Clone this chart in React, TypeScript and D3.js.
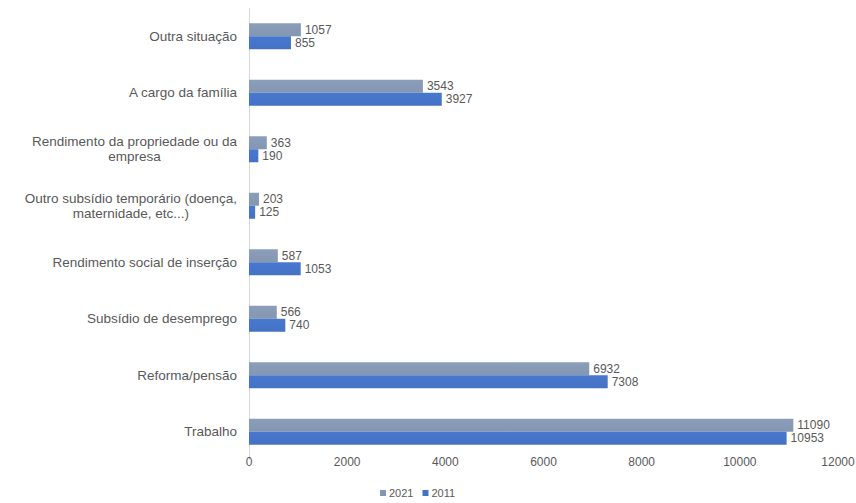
import React, { useEffect, useRef } from "react";
import * as d3 from "d3";

const categories = [
  "Outra situação",
  "A cargo da família",
  "Rendimento da propriedade ou da empresa",
  "Outro subsídio temporário (doença, maternidade, etc...)",
  "Rendimento social de inserção",
  "Subsídio de desemprego",
  "Reforma/pensão",
  "Trabalho",
];
const seriesNames = ["2021", "2011"];
const values2021 = [1057, 3543, 363, 203, 587, 566, 6932, 11090];
const values2011 = [855, 3927, 190, 125, 1053, 740, 7308, 10953];
const xTicks = [0, 2000, 4000, 6000, 8000, 10000, 12000];

const W = 856;
const H = 503;
const colors = ["#8496B0", "#4472C4"];
const FONT = "'Liberation Sans', Arial, sans-serif";
const TEXT = "#595959";

export default function App() {
  const ref = useRef<SVGSVGElement | null>(null);

  useEffect(() => {
    const svg = d3.select(ref.current);
    svg.selectAll("*").remove();

    const left = 249, right = 838, top = 8, bottom = 460;
    const x = d3.scaleLinear().domain([0, 12000]).range([left, right]);
    const y = d3.scaleBand<string>().domain(categories).range([top, bottom]).paddingInner(0.54).paddingOuter(0.27);
    const ys = d3.scaleBand<string>().domain(seriesNames).range([0, y.bandwidth()]);

    const defs = svg.append("defs");
    colors.forEach((c, i) => {
      const g = defs.append("linearGradient").attr("id", "g" + i).attr("x1", 0).attr("x2", 0).attr("y1", 0).attr("y2", 1);
      g.append("stop").attr("offset", "0%").attr("stop-color", d3.color(c)!.brighter(0.15).toString());
      g.append("stop").attr("offset", "100%").attr("stop-color", c);
    });

    svg.append("line").attr("x1", left + 0.5).attr("x2", left + 0.5).attr("y1", top).attr("y2", bottom)
      .attr("stroke", "#D9D9D9").attr("stroke-width", 1);

    const data = categories.map((c, i) => ({ c, vals: [values2021[i], values2011[i]] }));

    const groups = svg.append("g").selectAll("g").data(data).join("g")
      .attr("transform", (d) => `translate(0,${y(d.c)})`);

    seriesNames.forEach((s, si) => {
      groups.append("rect")
        .attr("x", x(0))
        .attr("y", ys(s)!)
        .attr("width", (d) => x(d.vals[si]) - x(0))
        .attr("height", ys.bandwidth())
        .attr("fill", `url(#g${si})`);
      groups.append("text")
        .attr("x", (d) => x(d.vals[si]) + 4)
        .attr("y", ys(s)! + ys.bandwidth() / 2)
        .attr("dy", "0.35em")
        .attr("font-family", FONT)
        .attr("font-size", 12)
        .attr("fill", TEXT)
        .text((d) => String(d.vals[si]));
    });

    svg.append("g").selectAll("text").data(xTicks).join("text")
      .attr("x", (d) => x(d))
      .attr("y", 466)
      .attr("text-anchor", "middle")
      .attr("font-family", FONT)
      .attr("font-size", 12)
      .attr("fill", TEXT)
      .text((d) => String(d));

    const labelRight = 237;
    const maxW = 222;
    const lineH = 15;
    const lg = svg.append("g");
    categories.forEach((c) => {
      const cy = y(c)! + y.bandwidth() / 2;
      const t = lg.append("text").attr("font-family", FONT).attr("font-size", 13.5).attr("fill", TEXT);
      const words = c.split(" ");
      const lines: string[] = [];
      let cur = "";
      const probe = t.append("tspan");
      words.forEach((w) => {
        const test = cur ? cur + " " + w : w;
        probe.text(test);
        if ((probe.node() as SVGTSpanElement).getComputedTextLength() > maxW && cur) {
          lines.push(cur);
          cur = w;
        } else cur = test;
      });
      lines.push(cur);
      const widths = lines.map((l) => { probe.text(l); return (probe.node() as SVGTSpanElement).getComputedTextLength(); });
      probe.remove();
      const mw = Math.max(...widths);
      const cx = labelRight - mw / 2;
      const y0 = cy - ((lines.length - 1) * lineH) / 2;
      lines.forEach((l, i) => {
        t.append("tspan").attr("x", lines.length > 1 ? cx : labelRight)
          .attr("text-anchor", lines.length > 1 ? "middle" : "end")
          .attr("y", y0 + i * lineH).attr("dy", "0.35em").text(l);
      });
    });

    const legendY = 493;
    const items = seriesNames.map((s, i) => ({ s, c: colors[i] }));
    const leg = svg.append("g");
    let lx = 380;
    items.forEach((it) => {
      leg.append("rect").attr("x", lx).attr("y", legendY - 3).attr("width", 6).attr("height", 6).attr("fill", it.c);
      const tx = leg.append("text").attr("x", lx + 9).attr("y", legendY).attr("dy", "0.35em")
        .attr("font-family", FONT).attr("font-size", 11).attr("fill", TEXT).text(it.s);
      lx += 9 + (tx.node() as SVGTextElement).getComputedTextLength() + 9;
    });
  }, []);

  return (
    <svg ref={ref} width={W} height={H}
      style={{ position: "absolute", left: 0, top: 0, background: "#fff" }} />
  );
}
